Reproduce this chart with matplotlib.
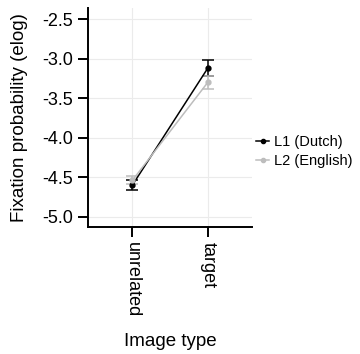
import numpy as np
import matplotlib.pyplot as plt
from matplotlib.lines import Line2D

plt.rcParams['font.family'] = ['Liberation Sans', 'DejaVu Sans']

# --- data ---
image_types = ['unrelated', 'target']
groups = ['L1 (Dutch)', 'L2 (English)']
dutch_mean = [-4.60, -3.12]
dutch_se = [0.06, 0.10]
english_mean = [-4.54, -3.30]
english_se = [0.05, 0.08]
colors = ['#000000', '#bdbdbd']

fig = plt.figure(figsize=(3.6, 3.54), dpi=100)
ax = fig.add_axes([0.245, 0.359, 0.455, 0.618])

x = np.arange(1, len(image_types) + 1)
for means, ses, col, lab in [(dutch_mean, dutch_se, colors[0], groups[0]),
                             (english_mean, english_se, colors[1], groups[1])]:
    ax.errorbar(x, means, yerr=ses, color=col, lw=1.1, elinewidth=1.1,
                capsize=4, capthick=1.1, marker='o', ms=3.5, zorder=3)

ax.set_xlim(0.413, 2.587)
ax.set_ylim(-5.13, -2.36)
ax.set_xticks(x)
ax.set_xticklabels(image_types, rotation=-90, va='top', ha='center')
ax.set_yticks(np.arange(-5.0, -2.4, 0.5))
ax.set_yticklabels([f'{v:.1f}' for v in np.arange(-5.0, -2.4, 0.5)])

ax.grid(True, color='#ebebeb', lw=0.8)
ax.set_axisbelow(True)
for s in ['top', 'right']:
    ax.spines[s].set_visible(False)
for s in ['left', 'bottom']:
    ax.spines[s].set_linewidth(1.4)
ax.tick_params(axis='both', length=7, width=1.4, labelsize=13, colors='black', pad=4)

ax.set_xlabel('Image type', fontsize=13.5, labelpad=11)
ax.set_ylabel('Fixation probability (elog)', fontsize=13.5, labelpad=10)

handles = [Line2D([], [], color=c, lw=1.1, marker='o', ms=3) for c in colors]
ax.legend(handles, groups, loc='center left', bbox_to_anchor=(0.98, 0.345), frameon=False,
          fontsize=10.5, handlelength=0.9, handletextpad=0.35, borderaxespad=0.1,
          labelspacing=0.3)

fig.savefig('out.png', dpi=100)
